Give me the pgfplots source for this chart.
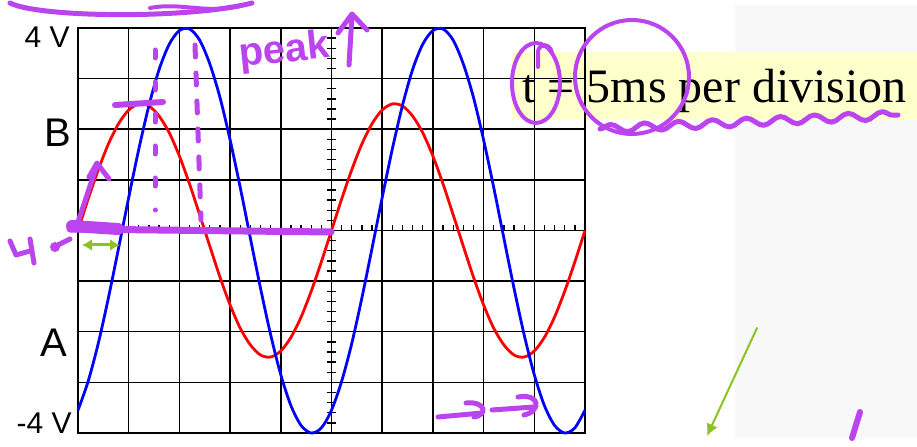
\documentclass[border=0pt]{standalone}
\usepackage{pgfplots}
\pgfplotsset{compat=1.18}
\usepackage{pgfplotstable}
\usepackage{fontspec}
\setmainfont{Liberation Sans}
\newfontfamily\notefont{Liberation Serif}
\usetikzlibrary{arrows.meta,decorations.pathmorphing}

\definecolor{ink}{RGB}{187,68,238}
\definecolor{greenink}{RGB}{140,195,35}
\definecolor{notefill}{RGB}{255,255,204}
\definecolor{chA}{RGB}{255,0,0}
\definecolor{chB}{RGB}{0,0,255}
\definecolor{margin}{RGB}{248,248,248}

% time in ms, voltage in V
\pgfplotstableread{
t v
0 0
1 0.62
2 1.20
3 1.71
4 2.11
5 2.38
6 2.50
7 2.46
8 2.26
9 1.93
10 1.47
11 0.92
12 0.31
13 -0.31
14 -0.92
15 -1.47
16 -1.93
17 -2.26
18 -2.46
19 -2.50
20 -2.38
21 -2.11
22 -1.71
23 -1.20
24 -0.62
25 0
26 0.62
27 1.20
28 1.71
29 2.11
30 2.38
31 2.50
32 2.46
33 2.26
34 1.93
35 1.47
36 0.92
37 0.31
38 -0.31
39 -0.92
40 -1.47
41 -1.93
42 -2.26
43 -2.46
44 -2.50
45 -2.38
46 -2.11
47 -1.71
48 -1.20
49 -0.62
50 0
}\traceA

\pgfplotstableread{
t v
0 -3.55
1 -2.98
2 -2.23
3 -1.33
4 -0.35
5 0.65
6 1.61
7 2.47
8 3.18
9 3.68
10 3.95
11 3.98
12 3.76
13 3.29
14 2.63
15 1.79
16 0.85
17 -0.15
18 -1.14
19 -2.06
20 -2.85
21 -3.46
22 -3.85
23 -4.00
24 -3.90
25 -3.55
26 -2.98
27 -2.23
28 -1.33
29 -0.35
30 0.65
31 1.61
32 2.47
33 3.18
34 3.68
35 3.95
36 3.98
37 3.76
38 3.29
39 2.63
40 1.79
41 0.85
42 -0.15
43 -1.14
44 -2.06
45 -2.85
46 -3.46
47 -3.85
48 -4.00
49 -3.90
50 -3.55
}\traceB

\begin{document}
\begin{tikzpicture}
\begin{scope}[x=0.5pt,y=-0.5pt]
  \useasboundingbox (0,0) rectangle (917,433);
  % pale slide margin on the right
  \fill[margin] (735,0) rectangle (917,433);
  % time-base note
  \fill[notefill] (512,47) rectangle (917,115);
  \node[anchor=base west, inner sep=0pt, font=\notefont\fontsize{24}{28}\selectfont]
    at (522,98) {t = 5ms per division};
  % screen labels
  \node[anchor=base east, inner sep=0pt, font=\fontsize{15}{18}\selectfont] at (70,43) {4 V};
  \node[anchor=base east, inner sep=0pt, font=\fontsize{15}{18}\selectfont] at (72,429) {-4 V};
  \node[anchor=base east, inner sep=0pt, font=\fontsize{20}{24}\selectfont] at (72,142) {B};
  \node[anchor=base east, inner sep=0pt, font=\fontsize{20}{24}\selectfont] at (68,352) {A};
  % minor division ticks on the centre lines
  \foreach \k in {1,...,49}
    \draw[line width=0.65pt] ({78+\k*10.14},226) -- ++(0,-6);
  \foreach \k in {1,...,39}
    \draw[line width=0.65pt] (327,{23+\k*10.125}) -- (336,{23+\k*10.125});
\end{scope}

\begin{axis}[
  at={(39pt,-11.5pt)}, anchor=north west,
  scale only axis, width=253.5pt, height=202.5pt,
  xmin=0, xmax=50, ymin=-4, ymax=4,
  xtick={0,5,...,50}, ytick={-4,-3,...,4},
  xticklabels={}, yticklabels={},
  major tick length=0pt,
  grid=major,
  grid style={black, line width=0.75pt},
  major grid style={black, line width=0.75pt},
  axis line style={black, line width=0.75pt},
  clip=false,
]
  \addplot[chA, line width=1.4pt, smooth] table[x=t, y=v] {\traceA};
  \addplot[chB, line width=1.4pt, smooth] table[x=t, y=v] {\traceB};
\end{axis}

\begin{scope}[x=0.5pt,y=-0.5pt, line cap=round, line join=round]
  % pen marks
  \draw[ink, line width=2.5pt] (10,-2) .. controls (40,13) and (190,14) .. (252,-2);
  \draw[ink, line width=2pt] (150,3) .. controls (180,-3) and (205,9) .. (240,1);
  \node[ink, anchor=base west, inner sep=0pt, rotate=6, font=\bfseries\fontsize{20}{24}\selectfont] at (240,62) {peak};
  \draw[ink, line width=2.5pt] (349,60) -- (352,10);
  \draw[ink, line width=2.5pt] (338,28) -- (352,9) -- (367,25);
  \draw[ink, line width=2.5pt, dash pattern=on 4pt off 12pt] (155,45) -- (155,205);
  \draw[ink, line width=2.5pt, dash pattern=on 6pt off 8pt] (195,40) -- (201,215);
  \draw[ink, line width=3pt] (115,100) -- (163,97);
  \draw[ink, line width=2.5pt] (77,220) -- (97,160);
  \draw[ink, line width=2.5pt] (89,172) -- (97,158) -- (109,174);
  \draw[ink, line width=3.5pt] (70,224) -- (331,227);
  \draw[ink, line width=6pt] (72,221) -- (118,224);
  \draw[ink, line width=2.5pt] (10,236) -- (16,250) -- (30,246);
  \draw[ink, line width=2.5pt] (30,234) -- (34,258);
  \draw[ink, line width=2.5pt] (70,234) -- (54,242);
  \fill[ink] (55,242) circle (5);
  \draw[greenink, line width=1.5pt, {Latex[length=5pt,width=6pt]}-{Latex[length=5pt,width=6pt]}] (82,240) -- (120,240);
  \draw[ink, line width=2pt] (536,78) ellipse (24 and 40);
  \draw[ink, line width=2pt] (538,62) -- (538,46) .. controls (540,38) and (550,38) .. (552,48);
  \draw[ink, line width=2pt] (632,72) ellipse (57 and 57);
  \draw[ink, line width=2.5pt, decorate, decoration={snake, amplitude=2pt, segment length=17pt}] (600,124) -- (898,110);
  \draw[ink, line width=2.5pt] (438,412) -- (482,408);
  \draw[ink, line width=2.5pt] (466,398) .. controls (486,396) and (488,410) .. (474,412);
  \draw[ink, line width=2.5pt] (492,405) -- (534,402);
  \draw[ink, line width=2.5pt] (518,392) .. controls (540,388) and (542,406) .. (524,410);
  \draw[greenink, line width=1pt, -{Latex[length=6pt,width=6pt]}] (757,323) -- (707,431);
  \draw[ink, line width=3pt] (860,407) -- (852,433);
\end{scope}
\end{tikzpicture}
\end{document}
